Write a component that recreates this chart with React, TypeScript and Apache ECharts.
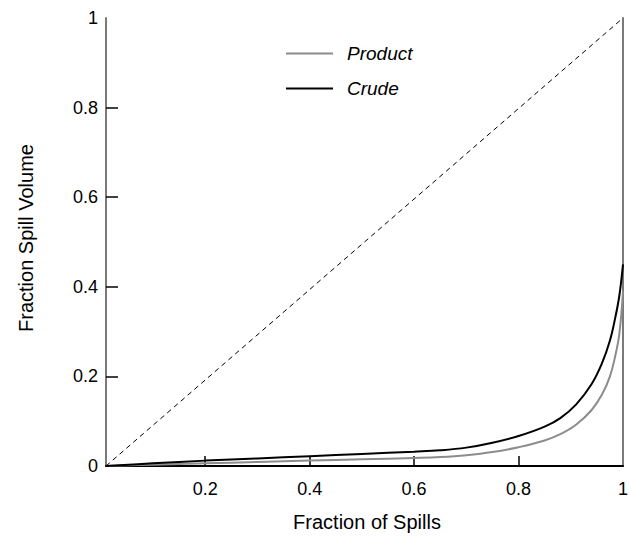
import React, { useEffect, useRef } from "react";
import * as echarts from "echarts";

const fractionSpills = [0.01, 0.1, 0.2, 0.3, 0.4, 0.5, 0.6, 0.65, 0.7, 0.75, 0.8, 0.85, 0.88, 0.91, 0.94, 0.96, 0.975, 0.985, 0.993, 1.0];
const crudeVolume = [0, 0.006, 0.012, 0.017, 0.022, 0.027, 0.032, 0.035, 0.041, 0.052, 0.067, 0.088, 0.107, 0.137, 0.183, 0.23, 0.28, 0.33, 0.38, 0.45];
const productVolume = [0, 0.003, 0.006, 0.009, 0.012, 0.015, 0.018, 0.02, 0.024, 0.031, 0.042, 0.057, 0.071, 0.092, 0.125, 0.16, 0.2, 0.245, 0.295, 0.39];
const diagonalX = [0.01, 1];
const diagonalY = [0, 1];
const xTicks = [0.2, 0.4, 0.6, 0.8, 1];
const yTicks = [0, 0.2, 0.4, 0.6, 0.8, 1];
const seriesNames = ["Product", "Crude"];
const xTitle = "Fraction of Spills";
const yTitle = "Fraction Spill Volume";

const FONT = "'Liberation Sans', Arial, Helvetica, sans-serif";

export default function App() {
  const ref = useRef<HTMLDivElement>(null);
  useEffect(() => {
    if (!ref.current) return;
    const chart = echarts.init(ref.current, null, { renderer: "svg" });
    const zip = (xs: number[], ys: number[]) => xs.map((x, i) => [x, ys[i]]);
    chart.setOption({
      animation: false,
      backgroundColor: "#fff",
      grid: { left: 106, right: 2, top: 18, bottom: 74, containLabel: false },
      legend: {
        orient: "vertical",
        left: 281,
        top: 39,
        icon: "rect",
        itemWidth: 47,
        itemHeight: 2,
        itemGap: 16,
        data: seriesNames,
        textStyle: { fontFamily: FONT, fontSize: 19, fontStyle: "italic", color: "#000", padding: [0, 0, 0, 9], lineHeight: 19 },
      },
      xAxis: [
        {
          type: "value",
          min: 0.01,
          max: 1,
          position: "bottom",
          axisLine: { show: true, lineStyle: { color: "#000", width: 2 } },
          axisTick: { show: true, inside: true, length: 10, customValues: xTicks.slice(0, 4), lineStyle: { color: "#000", width: 1.5 } },
          axisLabel: { customValues: xTicks, margin: 14, fontFamily: FONT, fontSize: 18, color: "#000" },
          splitLine: { show: false },
        },
        {
          type: "value",
          min: 0.01,
          max: 1,
          position: "top",
          axisLine: { show: true, lineStyle: { color: "#000", width: 1 } },
          axisTick: { show: false },
          axisLabel: { show: false },
          splitLine: { show: false },
        },
      ],
      yAxis: [
        {
          type: "value",
          min: 0,
          max: 1,
          interval: 0.2,
          position: "left",
          axisLine: { show: true, lineStyle: { color: "#7a7a7a", width: 2 } },
          axisTick: { show: true, inside: true, length: 12, customValues: yTicks.slice(1, 5), lineStyle: { color: "#000", width: 1.5 } },
          axisLabel: { customValues: yTicks, margin: 8, fontFamily: FONT, fontSize: 18, color: "#000" },
          splitLine: { show: false },
        },
        {
          type: "value",
          min: 0,
          max: 1,
          position: "right",
          axisLine: { show: true, lineStyle: { color: "#7a7a7a", width: 2 } },
          axisTick: { show: false },
          axisLabel: { show: false },
          splitLine: { show: false },
        },
      ],
      graphic: [
        {
          type: "text",
          x: 367,
          y: 522,
          style: { text: xTitle, font: `20px ${FONT}`, fill: "#000", align: "center", verticalAlign: "middle" },
        },
        {
          type: "text",
          x: 26,
          y: 238,
          rotation: Math.PI / 2,
          style: { text: yTitle, font: `20px ${FONT}`, fill: "#000", align: "center", verticalAlign: "middle" },
        },
      ],
      series: [
        {
          name: "diagonal",
          type: "line",
          data: zip(diagonalX, diagonalY),
          symbol: "none",
          lineStyle: { color: "#000", width: 1, type: [5, 4] },
          silent: true,
          z: 1,
        },
        {
          name: seriesNames[0],
          type: "line",
          data: zip(fractionSpills, productVolume),
          symbol: "none",
          smooth: 0.4,
          color: "#8c8c8c",
          lineStyle: { color: "#8c8c8c", width: 2 },
          z: 2,
        },
        {
          name: seriesNames[1],
          type: "line",
          data: zip(fractionSpills, crudeVolume),
          symbol: "none",
          smooth: 0.4,
          color: "#000",
          lineStyle: { color: "#000", width: 2 },
          z: 3,
        },
      ],
    });
    return () => chart.dispose();
  }, []);
  return <div ref={ref} style={{ position: "absolute", left: 0, top: 0, width: 631, height: 540 }} />;
}
